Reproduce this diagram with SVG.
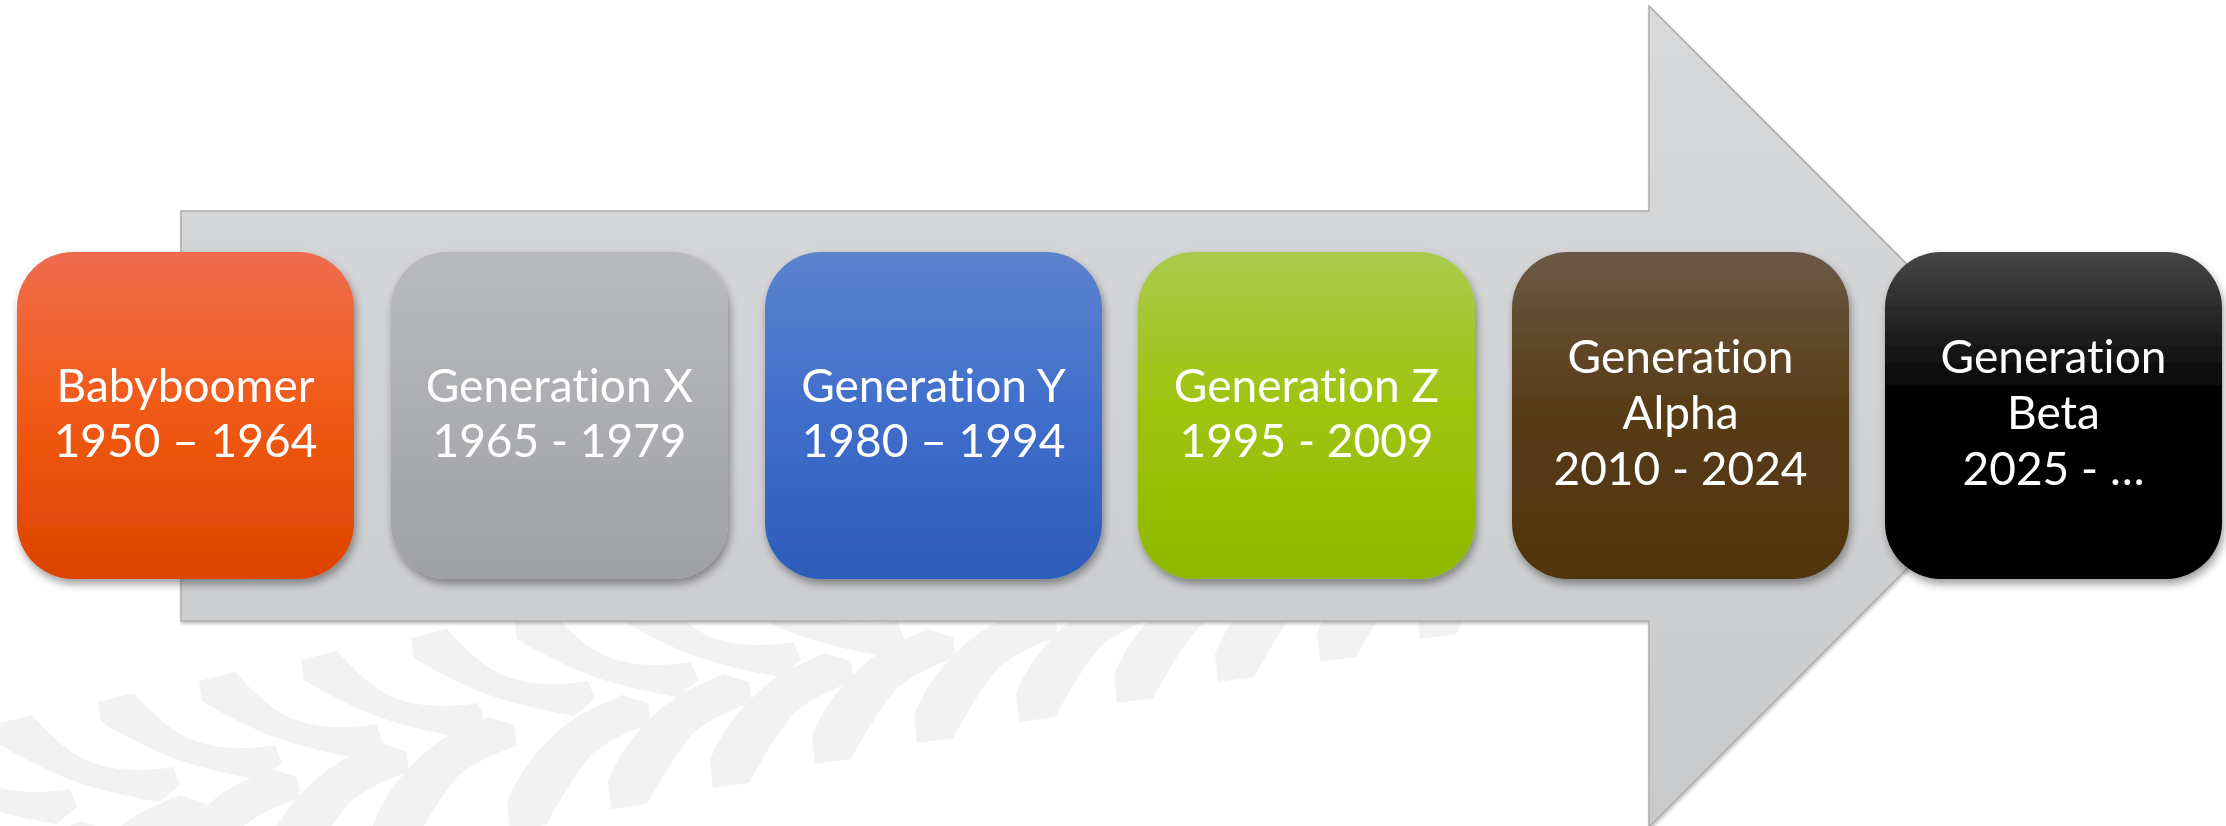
<svg xmlns="http://www.w3.org/2000/svg" xmlns:xlink="http://www.w3.org/1999/xlink" width="2226" height="826" viewBox="0 0 2226 826">
<defs>
<style>
.lbl{font-family:Lato,"Open Sans","Liberation Sans",sans-serif;font-size:46px;fill:#ffffff;text-anchor:middle;font-variant-ligatures:none;font-feature-settings:"liga" 0,"clig" 0}
.box{filter:url(#sh)}
.tread{fill:#f2f2f2}
</style>
<filter id="sh" x="-10%" y="-10%" width="125%" height="130%">
<feDropShadow dx="2" dy="5" stdDeviation="4" flood-color="#000" flood-opacity="0.38"/>
</filter>
<filter id="ash" x="-5%" y="-5%" width="110%" height="110%">
<feDropShadow dx="1" dy="2" stdDeviation="1.5" flood-color="#000" flood-opacity="0.25"/>
</filter>
<linearGradient id="gArrow" x1="0" y1="0" x2="0" y2="1">
<stop offset="0" stop-color="#d9dadc"/><stop offset="1" stop-color="#c9cacc"/>
</linearGradient>
<linearGradient id="gOrange" x1="0" y1="0" x2="0" y2="1">
<stop offset="0" stop-color="#ee6c4e"/><stop offset="0.5" stop-color="#f05914"/><stop offset="1" stop-color="#dd4200"/>
</linearGradient>
<linearGradient id="gGray" x1="0" y1="0" x2="0" y2="1">
<stop offset="0" stop-color="#b9babc"/><stop offset="1" stop-color="#a0a1a5"/>
</linearGradient>
<linearGradient id="gBlue" x1="0" y1="0" x2="0" y2="1">
<stop offset="0" stop-color="#5c83ce"/><stop offset="0.5" stop-color="#3f6ecb"/><stop offset="1" stop-color="#2c5cbb"/>
</linearGradient>
<linearGradient id="gGreen" x1="0" y1="0" x2="0" y2="1">
<stop offset="0" stop-color="#a8ca4c"/><stop offset="0.5" stop-color="#9dc40a"/><stop offset="1" stop-color="#8fb900"/>
</linearGradient>
<linearGradient id="gBrown" x1="0" y1="0" x2="0" y2="1">
<stop offset="0" stop-color="#6b5945"/><stop offset="0.5" stop-color="#573b14"/><stop offset="1" stop-color="#51350f"/>
</linearGradient>
<linearGradient id="gBlack" x1="0" y1="0" x2="0" y2="1">
<stop offset="0" stop-color="#464646"/><stop offset="0.45" stop-color="#000000"/><stop offset="1" stop-color="#000000"/>
</linearGradient>
<path id="trA" d="M0,0 L36,-9 C55,12 75,32 100,40 C125,48 155,47 177,43 L184,61 L163,78 C135,73 95,65 60,50 C35,38 15,28 3,20 Z"/>
<path id="trB" d="M0,0 L-3,-28 C10,-62 40,-97 73,-117 L112,-135 L138,-127 L141,-106 C117,-99 97,-88 82,-76 C66,-58 50,-30 36,-5 Z"/>
</defs>
<rect width="2226" height="826" fill="#ffffff"/>
<g id="tire-tracks" class="tread">
<use xlink:href="#trA" x="-107" y="746"/>
<use xlink:href="#trA" x="-4" y="724"/>
<use xlink:href="#trA" x="98" y="702"/>
<use xlink:href="#trA" x="199" y="681"/>
<use xlink:href="#trA" x="301" y="660"/>
<use xlink:href="#trA" x="411" y="638"/>
<use xlink:href="#trA" x="514" y="619"/>
<use xlink:href="#trA" x="617" y="599"/>
<use xlink:href="#trA" x="720" y="578"/>
<use xlink:href="#trB" x="-31" y="956"/>
<use xlink:href="#trB" x="67" y="930"/>
<use xlink:href="#trB" x="159" y="904"/>
<use xlink:href="#trB" x="268" y="878"/>
<use xlink:href="#trB" x="376" y="852"/>
<use xlink:href="#trB" x="510" y="830"/>
<use xlink:href="#trB" x="611" y="809"/>
<use xlink:href="#trB" x="713" y="788"/>
<use xlink:href="#trB" x="815" y="764"/>
<use xlink:href="#trB" x="917" y="743"/>
<use xlink:href="#trB" x="1019" y="722"/>
<use xlink:href="#trB" x="1117" y="703"/>
<use xlink:href="#trB" x="1218" y="682"/>
<use xlink:href="#trB" x="1320" y="662"/>
<use xlink:href="#trB" x="1420" y="639"/>
</g>
<g id="connectors">
<path id="timeline-arrow" d="M181,211 L1649,211 L1649,6 L2059,416.5 L1649,827 L1649,621 L181,621 Z" fill="url(#gArrow)" stroke="#adadad" stroke-width="1.5" filter="url(#ash)"/>
</g>
<g id="node-babyboomer" class="box">
<rect x="17" y="252" width="337" height="327" rx="56" fill="url(#gOrange)"/>
<text class="lbl" x="185.5" y="402">Babyboomer</text>
<text class="lbl" x="185.5" y="457">1950 – 1964</text>
</g>
<g id="node-genx" class="box">
<rect x="391" y="252" width="337" height="327" rx="56" fill="url(#gGray)"/>
<text class="lbl" x="559.5" y="402">Generation X</text>
<text class="lbl" x="559.5" y="457">1965 - 1979</text>
</g>
<g id="node-geny" class="box">
<rect x="765" y="252" width="337" height="327" rx="56" fill="url(#gBlue)"/>
<text class="lbl" x="933.5" y="402">Generation Y</text>
<text class="lbl" x="933.5" y="457">1980 – 1994</text>
</g>
<g id="node-genz" class="box">
<rect x="1138" y="252" width="337" height="327" rx="56" fill="url(#gGreen)"/>
<text class="lbl" x="1306.5" y="402">Generation Z</text>
<text class="lbl" x="1306.5" y="457">1995 - 2009</text>
</g>
<g id="node-alpha" class="box">
<rect x="1512" y="252" width="337" height="327" rx="56" fill="url(#gBrown)"/>
<text class="lbl" x="1680.5" y="373">Generation</text>
<text class="lbl" x="1680.5" y="429">Alpha</text>
<text class="lbl" x="1680.5" y="485">2010 - 2024</text>
</g>
<g id="node-beta" class="box">
<rect x="1885" y="252" width="337" height="327" rx="56" fill="url(#gBlack)"/>
<text class="lbl" x="2053.5" y="373">Generation</text>
<text class="lbl" x="2053.5" y="429">Beta</text>
<text class="lbl" x="2053.5" y="485">2025 - …</text>
</g>
</svg>
